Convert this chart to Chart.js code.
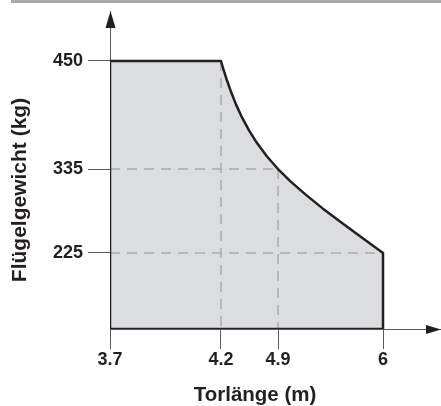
<!DOCTYPE html>
<html>
<head>
<meta charset="utf-8">
<title>Flügelgewicht / Torlänge</title>
<script src="https://cdn.jsdelivr.net/npm/chart.js@4"></script>
<style>
  body { margin: 0; background: #fff; }
  canvas { display: block; }
</style>
</head>
<body>
<canvas id="gateChart" width="441" height="406"></canvas>
<script>
// tick values on both axes
const lengthTicks = [3.7, 4.2, 4.9, 6];
const weightTicks = [225, 335, 450];
// axis extents: x runs on past 6 up to the arrow, the y floor is unlabeled
const lengthRange = [3.7, 6.6];
const weightRange = [125, 500];

// outline of the permitted area (gate length vs. leaf weight), closed along the floor
const zoneLength = [3.7, 3.7, 4.2, 4.237, 4.274, 4.323, 4.384, 4.458, 4.544, 4.642, 4.765, 4.9,
  5.036, 5.193, 5.371, 5.56, 5.77, 6, 6, 3.7];
const zoneWeight = [125, 450, 450, 439.1, 429.2, 417.2, 403.8, 389.9, 376.1, 362.6, 348.3, 335,
  318.2, 301.1, 283.1, 265.2, 246, 225, 125, 125];

// dashed reading guides
const guideLength = [[3.7, 4.9], [3.7, 6], [4.2, 4.2], [4.9, 4.9]];
const guideWeight = [[335, 335], [225, 225], [450, 125], [335, 125]];

// the drawing is schematic: each stop sits at its own fraction of the axis
const axisSpacing = {
  x: [0, 0.3353, 0.5076, 0.8248, 1],
  y: [0, 0.239, 0.5031, 0.8428, 1]
};

const ink = '#231f20';
const axisGrey = '#58595b';
const tickFont = { family: '"Liberation Sans", Arial, sans-serif', size: 18, weight: 'bold' };

function stopsFor(range, ticks) {
  return [...new Set([range[0], ...ticks, range[1]])].sort((a, b) => a - b);
}
const axisStops = {
  x: stopsFor(lengthRange, lengthTicks),
  y: stopsFor(weightRange, weightTicks)
};

// linear scale whose segments between stops get individual lengths
class SpacedScale extends Chart.LinearScale {
  toDecimal(value) {
    const v = axisStops[this.id], f = axisSpacing[this.id];
    let i = 1;
    while (i < v.length - 1 && value > v[i]) i++;
    return f[i - 1] + (value - v[i - 1]) / (v[i] - v[i - 1]) * (f[i] - f[i - 1]);
  }
  getPixelForValue(value) {
    return value == null ? NaN : this.getPixelForDecimal(this.toDecimal(value));
  }
  getValueForPixel(pixel) {
    const d = this.getDecimalForPixel(pixel);
    const v = axisStops[this.id], f = axisSpacing[this.id];
    let i = 1;
    while (i < f.length - 1 && d > f[i]) i++;
    return v[i - 1] + (d - f[i - 1]) / (f[i] - f[i - 1]) * (v[i] - v[i - 1]);
  }
}
SpacedScale.id = 'spaced';
SpacedScale.defaults = Chart.LinearScale.defaults;
Chart.register(SpacedScale);

const toPoints = (xs, ys) => xs.map((x, i) => ({ x: x, y: ys[i] }));

// top rule, axis arrows and axis titles
const chartDecor = {
  id: 'chartDecor',
  beforeDraw(chart) {
    const ctx = chart.ctx;
    ctx.save();
    ctx.fillStyle = '#a7a9ac';
    ctx.fillRect(11, 0, chart.width - 11, 3);
    ctx.restore();
  },
  afterDraw(chart) {
    const ctx = chart.ctx;
    const a = chart.chartArea;
    ctx.save();
    ctx.fillStyle = ink;

    ctx.beginPath();
    ctx.moveTo(a.left + 0.5, a.top);
    ctx.lineTo(a.left + 5.5, a.top + 17);
    ctx.lineTo(a.left - 4.5, a.top + 17);
    ctx.closePath();
    ctx.fill();

    ctx.beginPath();
    ctx.moveTo(a.right, a.bottom + 0.5);
    ctx.lineTo(a.right - 15, a.bottom + 5);
    ctx.lineTo(a.right - 15, a.bottom - 4);
    ctx.closePath();
    ctx.fill();

    ctx.textAlign = 'center';
    ctx.textBaseline = 'alphabetic';
    ctx.font = 'bold 20.5px "Liberation Sans", Arial, sans-serif';
    ctx.fillText('Torlänge (m)', 255, 401);

    ctx.font = 'bold 21px "Liberation Sans", Arial, sans-serif';
    ctx.translate(26, 190);
    ctx.rotate(-Math.PI / 2);
    ctx.fillText('Flügelgewicht (kg)', 0, 0);
    ctx.restore();
  }
};

new Chart(document.getElementById('gateChart'), {
  type: 'line',
  data: {
    datasets: [
      {
        data: toPoints(zoneLength, zoneWeight),
        fill: 'shape',
        backgroundColor: '#dcdddf',
        borderColor: ink,
        borderWidth: 2.5,
        borderJoinStyle: 'round',
        pointRadius: 0,
        tension: 0
      },
      ...guideLength.map((xs, i) => ({
        data: toPoints(xs, guideWeight[i]),
        fill: false,
        borderColor: '#a9aaac',
        borderWidth: 1.5,
        borderDash: [10, 7],
        pointRadius: 0
      }))
    ]
  },
  options: {
    responsive: false,
    animation: false,
    events: [],
    layout: { padding: { top: 11 } },
    plugins: {
      legend: { display: false },
      tooltip: { enabled: false },
      filler: { drawTime: 'beforeDatasetsDraw' }
    },
    scales: {
      x: {
        type: 'spaced',
        min: lengthRange[0],
        max: lengthRange[1],
        afterBuildTicks: scale => { scale.ticks = lengthTicks.map(value => ({ value })); },
        afterFit: scale => { scale.height = 77; scale.paddingLeft = 0; scale.paddingRight = 0; },
        grid: { drawOnChartArea: false, tickLength: 20, color: axisGrey, lineWidth: 1 },
        border: { color: axisGrey, width: 1 },
        ticks: { autoSkip: false, maxRotation: 0, padding: 0, color: ink, font: tickFont, callback: v => String(v) }
      },
      y: {
        type: 'spaced',
        min: weightRange[0],
        max: weightRange[1],
        afterBuildTicks: scale => { scale.ticks = weightTicks.map(value => ({ value })); },
        afterFit: scale => { scale.width = 110; scale.paddingTop = 0; scale.paddingBottom = 0; },
        grid: { drawOnChartArea: false, tickLength: 22, color: axisGrey, lineWidth: 1 },
        border: { color: axisGrey, width: 1 },
        ticks: { autoSkip: false, padding: 5, color: ink, font: tickFont, callback: v => String(v) }
      }
    }
  },
  plugins: [chartDecor]
});
</script>
</body>
</html>
